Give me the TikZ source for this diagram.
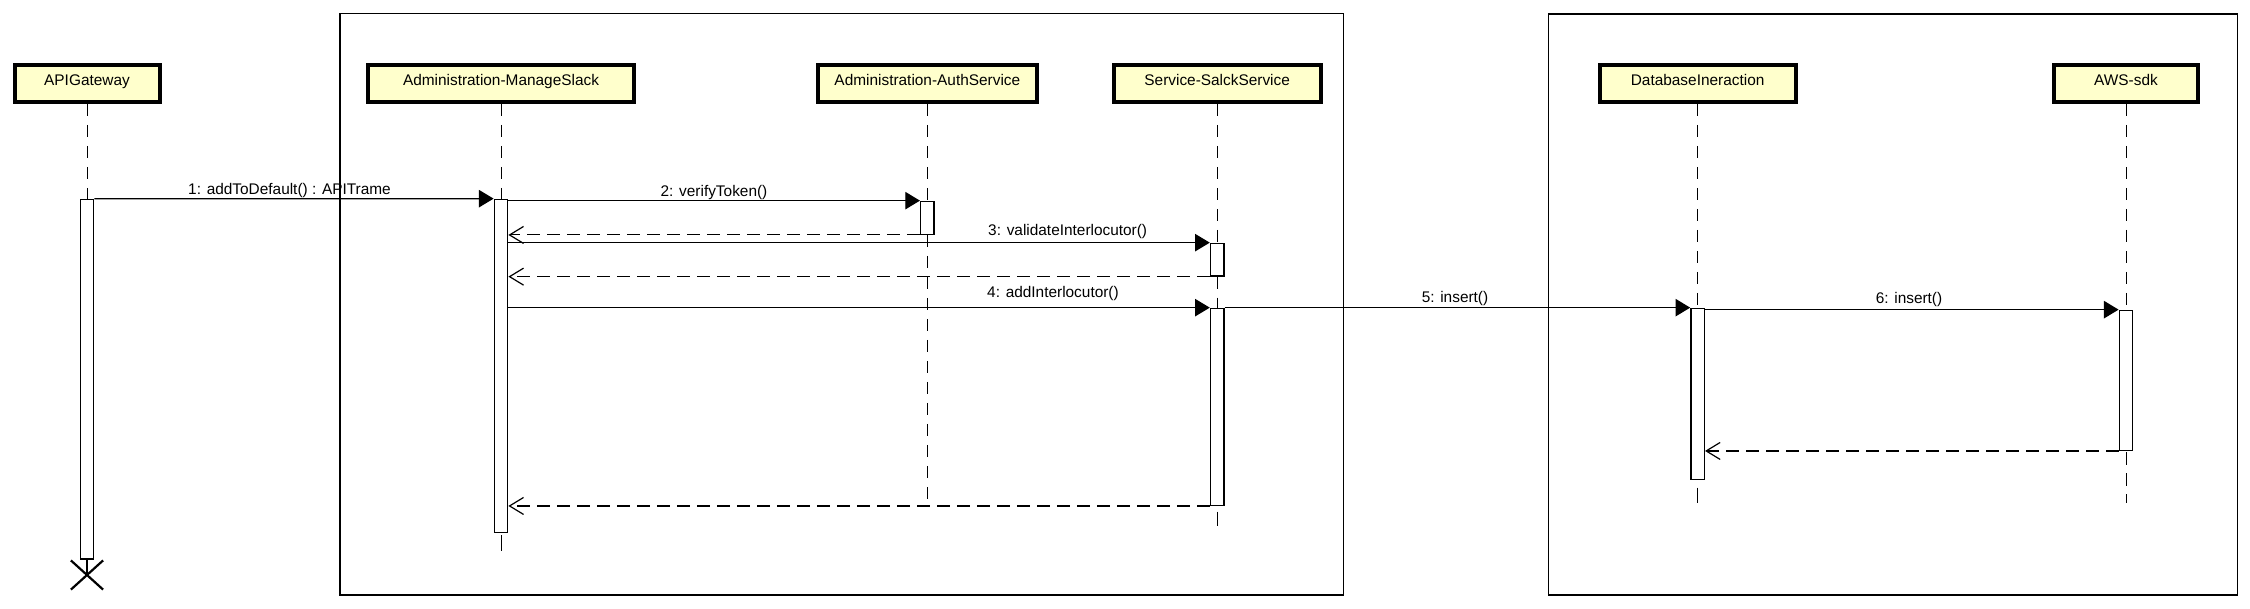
\documentclass[tikz,border=0pt]{standalone}
\usepackage{fontspec}
\setmainfont{Liberation Sans}
\usetikzlibrary{arrows.meta,shapes.misc}
\definecolor{headfill}{RGB}{255,255,204}
\begin{document}
\begin{tikzpicture}[x=1pt,y=-1pt,
  every node/.style={font=\fontsize{15.4}{18}\selectfont},
  head/.style={draw, line width=4pt, fill=headfill, inner sep=0pt, minimum height=37pt, text height=10.5pt, text depth=5.5pt},
  act/.style={draw, line width=1.3pt, fill=white, inner sep=0pt, minimum width=13.5pt},
  life/.style={line width=1pt, dash pattern=on 12.5pt off 8.5pt},
  tail/.style={line width=1pt},
  msg/.style={line width=1.3pt, -{Triangle[length=14.7pt,width=17.4pt]}},
  ret/.style={line width=1.1pt, dash pattern=on 13pt off 7pt, -{Straight Barb[length=14pt,width=17pt,line width=1.2pt]}},
  frame/.style={line width=1.5pt},
  lab/.style={anchor=base, inner sep=0pt},
  labw/.style={anchor=base west, inner sep=0pt},
  destroy/.style={cross out, draw, line width=2.2pt, minimum width=30pt, minimum height=27pt, inner sep=0pt}
]
\useasboundingbox (0,0) rectangle (2250,609);
% frames
\draw[frame] (340,13.5) rectangle (1343.5,595);
\draw[frame] (1548.5,14) rectangle (2237.5,595);
% headers
\node[head, minimum width=145pt] (hAPI) at (87,83.5) {APIGateway};
\node[head, minimum width=266.6pt] (hMS) at (501,83.5) {Administration-ManageSlack};
\node[head, minimum width=219.3pt] (hAU) at (927.35,83.5) {Administration-AuthService};
\node[head, minimum width=206.7pt] (hSV) at (1217.15,83.5) {Service-SalckService};
\node[head, minimum width=196.2pt] (hDB) at (1697.6,83.5) {DatabaseIneraction};
\node[head, minimum width=144pt] (hAW) at (2126,83.5) {AWS-sdk};
% activations
\node[act, minimum height=359.5pt] (api) at (87,379.25) {};
\node[act, minimum height=333pt] (ms) at (501,365.8) {};
\node[act, minimum height=33pt] (au) at (927.35,217.8) {};
\node[act, minimum height=32.7pt] (sv1) at (1217.15,259.65) {};
\node[act, minimum height=197pt] (sv2) at (1217.15,406.8) {};
\node[act, minimum height=171pt] (db) at (1697.6,393.8) {};
\node[act, minimum height=140pt] (aw) at (2126,380.3) {};
% lifeline end points
\coordinate (tMS) at (501,535);   \coordinate (eMS) at (501,551);
\coordinate (eAU) at (927.35,503);
\coordinate (tSV) at (1217.15,511.7); \coordinate (eSV) at (1217.15,526);
\coordinate (tDB) at (1697.6,487.5); \coordinate (eDB) at (1697.6,503);
\coordinate (tAW) at (2126,452); \coordinate (eAW) at (2126,503);
\node[destroy] (xAPI) at (87,575) {};
% lifelines
\draw[life] (hAPI.south) -- (api.north);
\draw[life] (hMS.south) -- (ms.north);
\draw[tail] (tMS) -- (eMS);
\draw[life] (hAU.south) -- (au.north);
\draw[life] (au.south) -- (eAU);
\draw[life] (hSV.south) -- (sv1.north);
\draw[life] (sv1.south) -- (sv2.north);
\draw[tail] (tSV) -- (eSV);
\draw[life] (hDB.south) -- (db.north);
\draw[tail] (tDB) -- (eDB);
\draw[life] (hAW.south) -- (aw.north);
\draw[life] (tAW) -- (eAW);
\draw[line width=1.3pt] (api.south) -- (xAPI.center);
% messages
\draw[msg] (api.north east) -- (ms.north west);
\draw[msg] (au.north west -| ms.east) -- (au.north west);
\draw[ret] (au.south west) -- (au.south west -| ms.east);
\draw[msg] (sv1.north west -| ms.east) -- (sv1.north west);
\draw[ret] (sv1.south west) -- (sv1.south west -| ms.east);
\draw[msg] (sv2.north west -| ms.east) -- (sv2.north west);
\draw[msg] (sv2.north east) -- (db.north west);
\draw[msg] (aw.north west -| db.east) -- (aw.north west);
\draw[ret] (aw.south west) -- (aw.south west -| db.east);
\draw[ret] (sv2.south west) -- (sv2.south west -| ms.east);
% labels
\node[lab] (l1) at (289.5,194.3) {1: addToDefault() : APITrame};
\node[lab] (l2) at (714,196.5) {2: verifyToken()};
\node[labw] (l3) at (988,235.5) {3: validateInterlocutor()};
\node[labw] (l4) at (987,298) {4: addInterlocutor()};
\node[lab] (l5) at (1455,302.5) {5: insert()};
\node[lab] (l6) at (1909,303.5) {6: insert()};
\end{tikzpicture}
\end{document}
